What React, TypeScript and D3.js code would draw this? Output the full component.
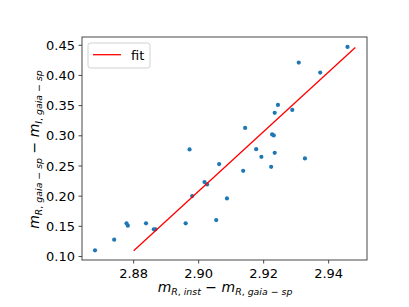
import React from "react";
import * as d3 from "d3";

const xValues = [
  2.8681, 2.874, 2.8778, 2.8782, 2.8838, 2.8862, 2.8867, 2.896, 2.8972, 2.898,
  2.9018, 2.9026, 2.9054, 2.9063, 2.9087, 2.9137, 2.9143, 2.9177, 2.9193, 2.9223,
  2.9226, 2.9231, 2.9234, 2.9234, 2.9244, 2.9288, 2.9308, 2.9327, 2.9374, 2.9458,
];
const yValues = [
  0.1103, 0.1278, 0.1549, 0.151, 0.1549, 0.145, 0.145, 0.1549, 0.2774, 0.2001,
  0.2233, 0.2195, 0.1604, 0.2531, 0.1963, 0.242, 0.3131, 0.2779, 0.2652, 0.2486,
  0.3022, 0.3006, 0.2718, 0.338, 0.3512, 0.3429, 0.4214, 0.2625, 0.4048, 0.4472,
];
const fitX = [2.88, 2.9482];
const fitY = [0.1096, 0.4462];
const xTicks = [2.88, 2.9, 2.92, 2.94];
const yTicks = [0.1, 0.15, 0.2, 0.25, 0.3, 0.35, 0.4, 0.45];
const xDomain = [2.8641, 2.9518];
const yDomain = [0.0942, 0.4637];

const W = 409;
const H = 307;
const L = 82, R = 367, T = 37, B = 260;
const FONT = "DejaVu Sans";

export default function App() {
  const x = d3.scaleLinear().domain(xDomain).range([L, R]);
  const y = d3.scaleLinear().domain(yDomain).range([B, T]);
  const line = d3
    .line<number>()
    .x((d) => x(fitX[d]))
    .y((d) => y(fitY[d]));
  const sub = { fontSize: 9.4 };
  const mainSize = 14;
  return (
    <svg
      width={W}
      height={H}
      style={{ position: "absolute", left: 0, top: 0, background: "#fff" }}
      fontFamily={FONT}
    >
      <rect x={0} y={0} width={W} height={H} fill="#fff" />
      {/* points */}
      {xValues.map((v, i) => (
        <circle key={i} cx={x(v)} cy={y(yValues[i])} r={2.1} fill="#1f77b4" />
      ))}
      {/* fit line */}
      <path d={line([0, 1]) || ""} stroke="red" strokeWidth={1.3} fill="none" />
      {/* frame */}
      <rect
        x={L}
        y={T}
        width={R - L}
        height={B - T}
        fill="none"
        stroke="#333"
        strokeWidth={0.9}
      />
      {/* x ticks */}
      {xTicks.map((t) => (
        <g key={t}>
          <line x1={x(t)} x2={x(t)} y1={B} y2={B + 3.5} stroke="#333" strokeWidth={0.9} />
          <text x={x(t)} y={277.7} fontSize={13} textAnchor="middle" fill="#000">
            {t.toFixed(2)}
          </text>
        </g>
      ))}
      {/* y ticks */}
      {yTicks.map((t) => (
        <g key={t}>
          <line x1={L - 3.5} x2={L} y1={y(t)} y2={y(t)} stroke="#333" strokeWidth={0.9} />
          <text x={75} y={y(t)} dy="0.36em" fontSize={13} textAnchor="end" fill="#000">
            {t.toFixed(2)}
          </text>
        </g>
      ))}
      {/* x label */}
      <text x={225} y={292} fontSize={mainSize} textAnchor="middle" fill="#000">
        <tspan fontStyle="italic">m</tspan>
        <tspan dy={3} {...sub}>
          <tspan fontStyle="italic">R</tspan>, <tspan fontStyle="italic">inst</tspan>
        </tspan>
        <tspan dy={-3}> − </tspan>
        <tspan fontStyle="italic">m</tspan>
        <tspan dy={3} {...sub}>
          <tspan fontStyle="italic">R</tspan>, <tspan fontStyle="italic">gaia</tspan> − <tspan fontStyle="italic">sp</tspan>
        </tspan>
      </text>
      {/* y label */}
      <text
        transform={`translate(39,${149.5}) rotate(-90)`}
        fontSize={mainSize}
        textAnchor="middle"
        fill="#000"
      >
        <tspan fontStyle="italic">m</tspan>
        <tspan dy={3} {...sub}>
          <tspan fontStyle="italic">R</tspan>, <tspan fontStyle="italic">gaia</tspan> − <tspan fontStyle="italic">sp</tspan>
        </tspan>
        <tspan dy={-3}> − </tspan>
        <tspan fontStyle="italic">m</tspan>
        <tspan dy={3} {...sub}>
          <tspan fontStyle="italic">I</tspan>, <tspan fontStyle="italic">gaia</tspan> − <tspan fontStyle="italic">sp</tspan>
        </tspan>
      </text>
      {/* legend */}
      <rect
        x={88}
        y={43}
        width={62}
        height={25}
        rx={2.5}
        fill="#fff"
        fillOpacity={0.8}
        stroke="#ccc"
        strokeWidth={0.9}
      />
      <line x1={93} x2={121} y1={54.7} y2={54.7} stroke="red" strokeWidth={1.3} />
      <text x={131} y={59.7} fontSize={13} fill="#000">
        fit
      </text>
    </svg>
  );
}
